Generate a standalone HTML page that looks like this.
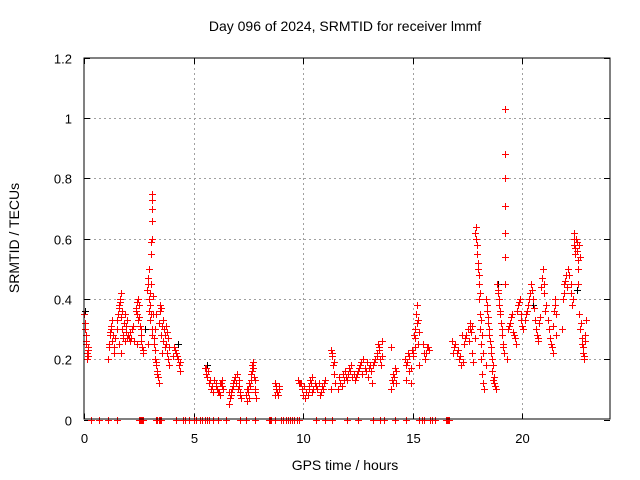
<!DOCTYPE html>
<html><head><meta charset="utf-8"><style>
body{margin:0;background:#fff}
svg{display:block;font-family:"Liberation Sans",sans-serif}
</style></head><body>
<svg id="chart" width="640" height="480" viewBox="0 0 640 480">
<rect width="640" height="480" fill="#fff"/>
<text x="345" y="31" text-anchor="middle" font-size="14" fill="#000">Day 096 of 2024, SRMTID for receiver lmmf</text>
<text x="345" y="470" text-anchor="middle" font-size="14" fill="#000">GPS time / hours</text>
<text transform="translate(19,238) rotate(-90)" text-anchor="middle" font-size="14" fill="#000">SRMTID / TECUs</text>
<g id="grid"></g>
<g id="axes"></g>
<g id="marks"></g>
<rect x="84" y="58" width="526" height="361" fill="none" stroke="#000" stroke-width="1"/>
</svg>
<script>
const xTicks=[0,5,10,15,20];
const yTicks=[0,0.2,0.4,0.6,0.8,1,1.2];
const yTickLabels=["0","0.2","0.4","0.6","0.8","1","1.2"];
const times=[0.02,0.04,0.06,0.08,0.1,0.12,0.14,0.16,0.2,
1.1,1.15,1.2,1.25,1.3,1.35,1.4,
1.5,1.55,1.6,1.65,1.7,1.75,1.8,1.85,1.9,1.95,1.6,1.7,
2.05,2.1,2.2,2.3,2.4,
2.35,2.4,2.45,2.5,2.55,2.6,2.65,2.7,
2.9,2.95,3.0,3.02,3.05,3.08,3.1,2.92,2.98,3.05,3.07,3.08,3.09,3.1,3.11,3.12,
3.2,3.25,3.3,3.35,3.4,3.22,3.28,3.45,3.5,3.55,
3.6,3.65,3.7,3.75,3.8,3.85,3.9,
4.1,4.2,4.3,4.35,4.4,
5.55,5.6,5.7,5.8,5.9,5.95,
6.0,6.1,6.2,6.25,6.3,6.35,
6.6,6.7,6.75,6.8,6.9,7.0,7.05,7.1,7.15,
7.4,7.45,7.5,7.55,7.6,7.65,7.7,7.75,7.8,7.85,
8.7,8.75,8.8,8.85,8.9,
9.75,9.85,9.95,10.0,10.1,10.15,10.25,10.3,10.4,10.45,
10.6,10.7,10.8,10.9,11.0,
11.25,11.3,11.35,11.4,11.45,
11.6,11.7,11.8,11.9,12.0,12.1,12.2,12.25,
12.35,12.45,12.55,12.65,12.75,12.85,12.95,13.05,13.15,13.25,
13.35,13.4,13.45,13.5,13.55,13.6,
14.0,14.05,14.1,14.2,14.25,
14.65,14.7,14.8,14.85,14.9,14.95,
15.0,15.05,15.1,15.15,15.2,15.25,15.3,
15.45,15.55,15.65,15.75,
16.8,16.9,17.0,17.1,17.2,17.25,
17.35,17.45,17.5,17.6,17.65,17.7,17.75,
17.85,17.9,17.95,17.97,18.0,18.02,18.05,18.08,18.1,18.12,18.15,18.2,18.25,17.88,
18.35,18.4,18.45,18.5,18.55,18.6,18.65,18.7,18.75,
18.85,18.9,18.95,19.0,19.05,19.1,19.15,
19.22,19.22,19.22,19.22,19.22,19.22,19.22,
19.35,19.45,19.55,19.6,19.7,19.8,19.9,19.95,
20.05,20.15,20.25,20.35,20.4,20.5,20.6,20.65,20.7,20.75,
20.85,20.95,21.0,21.1,21.2,21.3,21.4,21.45,21.5,21.55,
21.85,21.9,22.0,22.1,22.2,22.25,
22.35,22.38,22.4,22.45,22.5,22.52,22.55,
22.6,22.65,22.7,22.75,22.8,22.85,22.9,
0.05,0.1,0.15,0.18,1.12,1.18,1.22,1.28,1.33,1.38,1.52,1.58,1.62,1.68,1.72,1.78,1.82,1.88,1.92,1.98,
2.02,2.08,2.15,2.25,2.38,2.42,2.48,2.52,2.58,2.62,2.68,2.88,2.93,2.97,3.03,3.06,3.13,3.15,
3.18,3.23,3.27,3.32,3.38,3.42,3.48,3.52,3.58,3.62,3.68,3.72,3.78,3.82,3.88,4.05,4.15,4.25,4.38,
5.52,5.58,5.65,5.75,5.85,6.02,6.05,6.15,6.22,6.28,6.32,6.62,6.65,6.72,6.78,6.85,6.95,7.02,7.08,7.12,
7.42,7.48,7.52,7.58,7.62,7.68,7.72,7.78,7.82,8.72,8.78,8.82,8.88,
9.8,9.9,10.05,10.12,10.2,10.28,10.35,10.42,10.55,10.65,10.75,10.85,10.95,11.28,11.32,11.42,
11.65,11.75,11.85,11.95,12.05,12.15,12.3,12.4,12.5,12.6,12.7,12.8,12.9,13.0,13.1,13.2,13.3,13.38,13.48,13.58,
14.02,14.08,14.15,14.22,14.68,14.75,14.82,14.92,15.02,15.08,15.12,15.18,15.22,15.28,15.5,15.6,15.7,
16.85,16.95,17.05,17.15,17.3,17.4,17.55,17.62,17.72,17.82,17.92,17.99,18.03,18.06,18.11,18.18,18.22,
18.32,18.38,18.42,18.48,18.52,18.58,18.62,18.68,18.72,18.82,18.88,18.92,18.98,19.02,19.08,19.12,
19.3,19.4,19.5,19.58,19.65,19.75,19.85,19.92,20.0,20.1,20.2,20.3,20.45,20.55,20.62,20.72,
20.8,20.9,20.98,21.05,21.15,21.25,21.35,21.42,21.48,21.52,21.8,21.88,21.95,22.05,22.15,22.22,
22.33,22.36,22.42,22.48,22.53,22.58,22.62,22.68,22.72,22.78,22.82,22.88];
const srmtid=[0.35,0.32,0.30,0.28,0.25,0.22,0.20,0.24,0.21,
0.20,0.25,0.28,0.30,0.33,0.22,0.27,
0.30,0.35,0.38,0.40,0.42,0.36,0.28,0.26,0.31,0.33,0.25,0.22,
0.27,0.29,0.30,0.26,0.25,
0.36,0.39,0.40,0.34,0.31,0.28,0.24,0.22,
0.45,0.50,0.42,0.38,0.35,0.30,0.28,0.25,0.40,0.55,0.59,0.60,0.66,0.70,0.73,0.75,
0.25,0.20,0.18,0.15,0.12,0.30,0.35,0.38,0.28,0.22,
0.33,0.30,0.28,0.25,0.22,0.20,0.18,
0.24,0.22,0.20,0.18,0.16,
0.17,0.14,0.12,0.10,0.09,0.13,
0.11,0.09,0.08,0.12,0.13,0.10,
0.05,0.08,0.10,0.12,0.14,0.15,0.11,0.09,0.07,
0.08,0.06,0.10,0.12,0.15,0.18,0.19,0.14,0.09,0.07,
0.12,0.10,0.09,0.08,0.11,
0.13,0.12,0.10,0.08,0.07,0.09,0.11,0.13,0.14,0.10,
0.11,0.12,0.09,0.10,0.13,
0.23,0.21,0.18,0.15,0.12,
0.10,0.12,0.15,0.16,0.13,0.17,0.18,0.14,
0.13,0.15,0.17,0.19,0.20,0.16,0.14,0.18,0.12,0.19,
0.22,0.25,0.24,0.20,0.18,0.26,
0.10,0.13,0.15,0.17,0.12,
0.20,0.18,0.22,0.16,0.12,0.23,
0.22,0.28,0.30,0.35,0.38,0.25,0.18,
0.25,0.20,0.24,0.23,
0.26,0.24,0.22,0.20,0.18,0.28,
0.25,0.28,0.30,0.32,0.29,0.22,0.19,
0.62,0.60,0.55,0.50,0.45,0.40,0.35,0.30,0.25,0.20,0.15,0.12,0.10,0.64,
0.40,0.36,0.32,0.28,0.24,0.20,0.18,0.14,0.11,
0.45,0.42,0.38,0.35,0.30,0.25,0.22,
1.03,0.88,0.80,0.71,0.62,0.54,0.45,
0.30,0.32,0.35,0.28,0.25,0.38,0.40,0.33,
0.30,0.35,0.38,0.42,0.45,0.40,0.33,0.28,0.26,0.32,
0.44,0.50,0.45,0.38,0.30,0.25,0.22,0.36,0.40,0.28,
0.40,0.45,0.48,0.50,0.42,0.38,
0.62,0.58,0.55,0.60,0.56,0.50,0.45,
0.35,0.30,0.25,0.22,0.20,0.28,0.33,
0.30,0.26,0.22,0.23,0.24,0.29,0.31,0.26,0.28,0.24,0.33,0.37,0.39,0.34,0.30,0.27,0.32,0.35,0.29,0.27,
0.28,0.26,0.27,0.31,0.37,0.35,0.33,0.38,0.30,0.26,0.23,0.43,0.47,0.36,0.33,0.45,0.41,0.35,
0.27,0.23,0.19,0.16,0.14,0.32,0.36,0.37,0.31,0.26,0.24,0.31,0.29,0.27,0.24,0.21,0.23,0.21,0.19,0.17,
0.15,0.16,0.13,0.11,0.12,0.10,0.09,0.12,0.11,0.10,0.09,0.07,0.09,0.11,0.13,0.12,0.10,0.13,0.08,0.10,
0.09,0.07,0.11,0.13,0.16,0.17,0.13,0.10,0.08,0.11,0.09,0.10,0.12,
0.12,0.11,0.09,0.08,0.10,0.12,0.09,0.12,0.10,0.08,0.11,0.12,0.10,0.22,0.19,0.14,
0.11,0.13,0.14,0.15,0.16,0.15,0.14,0.16,0.18,0.15,0.17,0.19,0.17,0.16,0.18,0.20,0.21,0.23,0.21,0.24,
0.12,0.14,0.16,0.13,0.19,0.21,0.17,0.21,0.24,0.27,0.32,0.33,0.29,0.22,0.22,0.24,0.22,
0.25,0.23,0.21,0.19,0.27,0.26,0.30,0.31,0.27,0.58,0.52,0.48,0.42,0.33,0.28,0.22,0.18,
0.38,0.34,0.30,0.26,0.22,0.16,0.13,0.12,0.10,0.43,0.40,0.36,0.32,0.28,0.24,0.20,
0.31,0.34,0.29,0.27,0.36,0.39,0.35,0.31,0.33,0.36,0.40,0.43,0.37,0.30,0.27,0.34,
0.47,0.42,0.36,0.33,0.27,0.24,0.31,0.38,0.35,0.30,0.42,0.46,0.44,0.48,0.45,0.40,
0.60,0.57,0.59,0.53,0.58,0.54,0.32,0.27,0.24,0.21,0.26,0.30];
const blackTimes=[0.05,1.3,2.8,4.3,5.6,18.9,19.22,19.22,20.5,22.5];
const blackValues=[0.36,0.33,0.30,0.25,0.18,0.45,0.80,0.62,0.38,0.43];
const zeroTimes=[0.3,0.7,1.1,1.5,2.5,2.55,2.6,2.65,2.7,3.3,3.35,3.4,3.45,3.5,4.2,4.5,4.6,4.8,5.0,5.1,5.3,5.4,5.5,5.6,5.7,5.9,6.1,6.5,7.1,7.4,7.8,8.45,8.5,8.55,8.7,9.0,9.1,9.2,9.3,9.4,9.5,9.6,9.7,9.8,10.6,11.0,11.3,12.0,12.5,13.2,13.5,13.7,14.2,14.7,15.3,15.4,15.5,15.8,15.9,16.0,16.5,16.55,16.6,16.65];

const X0=84,X1=610,Y0=419.5,Y1=58;
const xs=t=>X0+(t/24)*(X1-X0);
const ys=v=>Y0-(v/1.2)*(Y0-Y1);
const NS="http://www.w3.org/2000/svg";
function mk(tag,attrs,parent){const e=document.createElementNS(NS,tag);for(const k in attrs)e.setAttribute(k,attrs[k]);parent.appendChild(e);return e;}
const grid=document.getElementById('grid'),axes=document.getElementById('axes'),marks=document.getElementById('marks');
xTicks.forEach((t,i)=>{
 const x=Math.round(xs(t))+0.5;
 if(t>0){const g=mk('line',{x1:x,x2:x,y1:Y1,y2:Y0,stroke:'#a0a0a0','stroke-dasharray':'2,3'},grid);
 
 }
 const tk=mk('path',{d:`M${x},${Y0}v-6M${x},${Y1}v6`,stroke:'#000'},axes);
 
 
 const lb=mk('text',{x:x,y:443,'text-anchor':'middle','font-size':'13'},axes);lb.textContent=String(t);
 
 
});
yTicks.forEach((v,i)=>{
 const y=Math.round(ys(v))+0.5;
 if(v>0&&v<1.2){const g=mk('line',{x1:X0,x2:X1,y1:y,y2:y,stroke:'#a0a0a0','stroke-dasharray':'2,3'},grid);
 
 }
 const tk=mk('path',{d:`M${X0},${y}h6M${X1},${y}h-6`,stroke:'#000'},axes);
 
 
 const lb=mk('text',{x:72,y:y+5,'text-anchor':'end','font-size':'13'},axes);lb.textContent=yTickLabels[i];
 
 
});
function plus(t,v,c,name){
 const x=Math.round(xs(t))+0.5,y=Math.round(ys(v))+0.5;
 const p=mk('path',{d:`M${x-3.5},${y}h7M${x},${y-3.5}v7`,stroke:c,'stroke-width':'1','shape-rendering':'crispEdges'},marks);
 
 
}
blackTimes.forEach((t,i)=>plus(t,blackValues[i],'#000','black-point'));
times.forEach((t,i)=>plus(t,srmtid[i],'#ff0000','srmtid-point'));
zeroTimes.forEach(t=>plus(t,0,'#ff0000','zero-point'));
</script>
</body></html>
